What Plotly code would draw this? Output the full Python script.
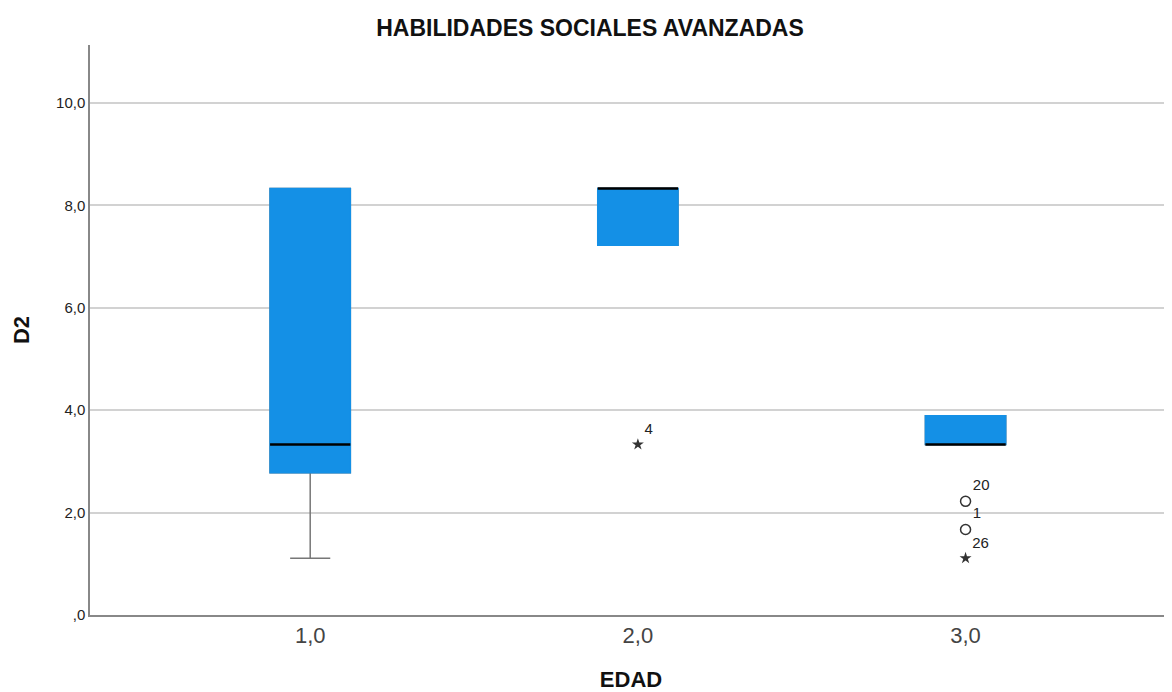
import plotly.graph_objects as go

categories = ["1,0", "2,0", "3,0"]
q1 = [2.78, 7.22, 3.33]
median = [3.33, 8.33, 3.33]
q3 = [8.33, 8.33, 3.89]
lower = [1.11, 7.22, 3.33]
upper = [8.33, 8.33, 3.89]

out_circle_x = ["3,0", "3,0"]
out_circle_y = [2.22, 1.67]
out_circle_lbl = ["20", "1"]
out_star_x = ["2,0", "3,0"]
out_star_y = [3.33, 1.11]
out_star_lbl = ["4", "26"]

ytick_vals = [0, 2, 4, 6, 8, 10]
ytick_text = [",0", "2,0", "4,0", "6,0", "8,0", "10,0"]

BLUE = "#1490e6"
BW = 0.245
FONT = "Liberation Sans, Arial"

fig = go.Figure()
fig.add_trace(go.Box(x=categories, q1=q1, median=median, q3=q3,
                     lowerfence=lower, upperfence=upper,
                     fillcolor=BLUE, line=dict(color="#777777", width=1.5),
                     width=BW, whiskerwidth=0.5, boxpoints=False, hoverinfo="skip"))
fig.add_trace(go.Box(x=categories, q1=q1, median=q1, q3=q3,
                     lowerfence=q1, upperfence=q3,
                     fillcolor=BLUE, line=dict(color=BLUE, width=1.5),
                     width=BW, whiskerwidth=0, boxpoints=False, hoverinfo="skip"))
fig.add_trace(go.Box(x=categories, q1=median, median=median, q3=median,
                     lowerfence=median, upperfence=median,
                     fillcolor="black", line=dict(color="black", width=2.5),
                     width=BW, whiskerwidth=0, boxpoints=False, hoverinfo="skip"))

fig.add_trace(go.Scatter(x=out_circle_x, y=out_circle_y, mode="markers+text",
                         marker=dict(symbol="circle-open", size=10, color="#333333",
                                     line=dict(width=1.5)),
                         text=out_circle_lbl, textposition="top right",
                         textfont=dict(family=FONT, size=15, color="#222222"),
                         hoverinfo="skip"))
fig.add_trace(go.Scatter(x=out_star_x, y=out_star_y, mode="markers+text",
                         marker=dict(symbol="star", size=9, color="#333333"),
                         text=out_star_lbl, textposition="top right",
                         textfont=dict(family=FONT, size=15, color="#222222"),
                         hoverinfo="skip"))

fig.update_layout(
    width=1164, height=684,
    margin=dict(l=82, r=0, t=37, b=77),
    paper_bgcolor="white", plot_bgcolor="white",
    boxmode="overlay", showlegend=False,
    title=dict(text="<b>HABILIDADES SOCIALES AVANZADAS</b>", x=0.5, xanchor="center",
               y=0.971, yanchor="middle",
               font=dict(family=FONT, size=23, color="#111111")),
    font=dict(family=FONT, color="#222222"),
)
fig.update_xaxes(type="category", categoryorder="array", categoryarray=categories,
                 range=[-0.672, 2.63], showgrid=False, zeroline=False,
                 showline=True, linecolor="#888888", linewidth=1.5,
                 ticks="", tickfont=dict(size=22, color="#444444"),
                 title=dict(text="<b>EDAD</b>", font=dict(size=22, color="#111111"), standoff=29))
fig.update_yaxes(range=[0, 11.13], tickvals=ytick_vals, ticktext=ytick_text,
                 showgrid=True, gridcolor="#d2d2d2", gridwidth=2, zeroline=False,
                 showline=True, linecolor="#888888", linewidth=1.5,
                 ticks="", ticklen=0, tickfont=dict(size=15, color="#222222"),
                 title=dict(text="<b>D2</b>", font=dict(size=22, color="#111111"), standoff=20))

fig.write_html("out.html")
